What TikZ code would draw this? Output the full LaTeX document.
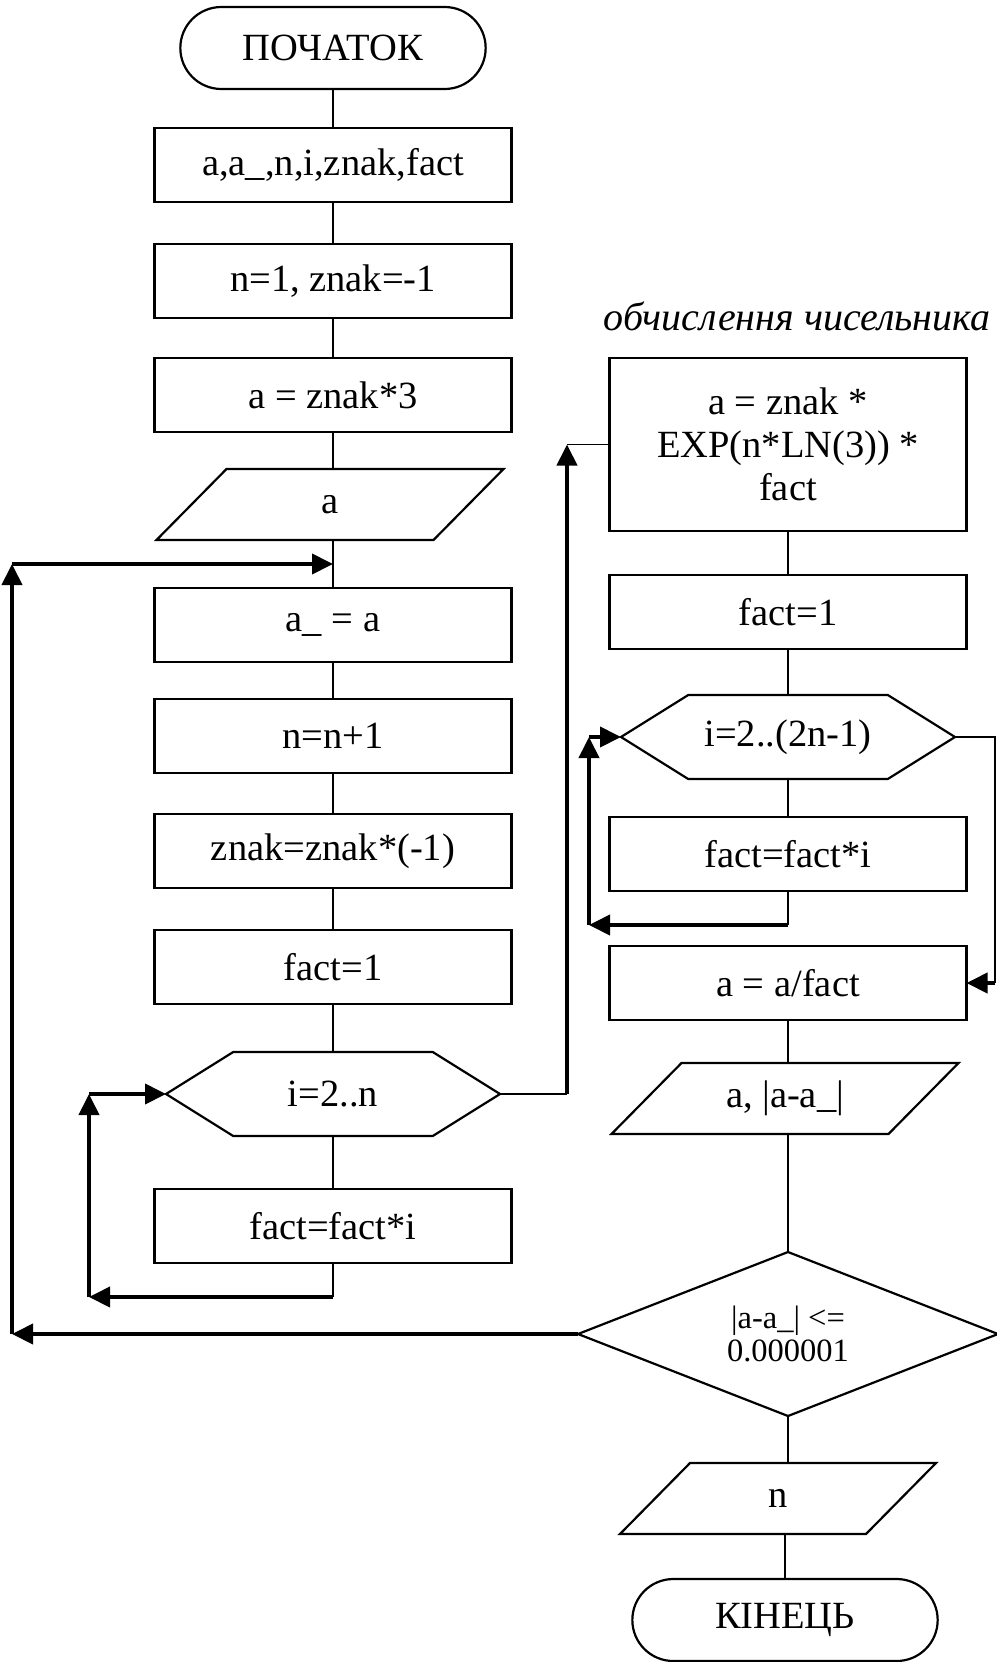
\documentclass[tikz,border=0pt]{standalone}
\usepackage{fontspec}
\setmainfont{Liberation Serif}
\usetikzlibrary{positioning,arrows.meta,shapes.geometric,shapes.misc,shapes.symbols}

\begin{document}
\begin{tikzpicture}[x=1pt, y=1pt,
  term/.style={draw, rounded rectangle, line width=2.2pt, outer sep=0pt,
               minimum width=312pt, minimum height=82pt,
               font=\fontsize{38.5}{43}\selectfont},
  proc/.style={draw, rectangle, line width=2.2pt, outer sep=0pt, minimum width=357pt,
               minimum height=74pt, align=center, font=\fontsize{38.5}{43}\selectfont},
  io/.style={rectangle, outer sep=0pt, minimum width=277pt, minimum height=71pt,
             font=\fontsize{38.5}{43}\selectfont,
             append after command={\pgfextra{\draw[line width=2.2pt, line join=miter]
               ([xshift=-35pt]\tikzlastnode.south west) -- ([xshift=-35pt]\tikzlastnode.south east)
               -- ([xshift=35pt]\tikzlastnode.north east) -- ([xshift=35pt]\tikzlastnode.north west)
               -- cycle;}}},
  hexa/.style={draw, signal, signal to=west and east, signal pointer angle=64,
               line width=2.2pt, outer sep=0pt, minimum width=334pt, minimum height=84pt,
               font=\fontsize{38.5}{43}\selectfont},
  decide/.style={draw, diamond, aspect=2.56, line width=2.2pt, outer sep=0pt,
                 minimum width=420pt, minimum height=164pt, inner sep=0pt, align=center,
                 font=\fontsize{32.5}{33}\selectfont},
  note/.style={font=\fontsize{40}{43}\selectfont\itshape},
  wire/.style={line width=1.8pt},
  back/.style={-{Triangle[length=21pt,width=20pt]}, line width=4pt}]
\useasboundingbox (0,0) rectangle (996,-1662);
% main column
\node[term] (start) at (333,-48) {ПОЧАТОК};
\node[proc, below=39pt of start] (decl) {a,a\_,n,i,znak,fact};
\node[proc, below=42pt of decl] (init) {n=1, znak=-1};
\node[proc, below=40pt of init] (first) {a = znak*3};
\node[io, below=37pt of first, xshift=-3pt] (show1) {a};
\node[proc, below=48pt of show1, xshift=3pt] (keep) {a\_ = a};
\node[proc, below=37pt of keep] (incn) {n=n+1};
\node[proc, below=41pt of incn] (sign) {znak=znak*(-1)};
\node[proc, below=42pt of sign] (one1) {fact=1};
\node[hexa, below=48pt of one1] (loop1) {i=2..n};
\node[proc, below=53pt of loop1] (mul1) {fact=fact*i};
% numerator column
\node[note] (cap) at (797,-316) {обчислення чисельника};
\node[proc, minimum height=173pt] (num) at (788,-444.5) {a = znak *\\EXP(n*LN(3)) *\\fact};
\node[proc, below=44pt of num] (one2) {fact=1};
\node[hexa, below=46pt of one2] (loop2) {i=2..(2n-1)};
\node[proc, below=38pt of loop2] (mul2) {fact=fact*i};
\node[proc, below=55pt of mul2] (div) {a = a/fact};
\node[io, below=43pt of div, xshift=-3pt] (show2) {a, |a-a\_|};
\node[decide, below=118pt of show2, xshift=3pt] (test) {|a-a\_| <=\\0.000001};
\node[io, below=47pt of test, minimum width=246pt, xshift=-10pt] (show3) {n};
\node[term, below=45pt of show3, xshift=7pt] (stop) {КІНЕЦЬ};
% plain links
\draw[wire] (start) -- (decl); \draw[wire] (decl) -- (init);
\draw[wire] (init) -- (first); \draw[wire] (first) -- (first |- show1.north);
\draw[wire] (keep |- show1.south) -- (keep); \draw[wire] (keep) -- (incn);
\draw[wire] (incn) -- (sign); \draw[wire] (sign) -- (one1);
\draw[wire] (one1) -- (loop1); \draw[wire] (loop1) -- (mul1);
\draw[wire] (num) -- (one2); \draw[wire] (one2) -- (loop2);
\draw[wire] (loop2) -- (mul2); \draw[wire] (div) -- (div |- show2.north);
\draw[wire] (test |- show2.south) -- (test); \draw[wire] (test) -- (test |- show3.north);
\draw[wire] (stop |- show3.south) -- (stop);
% turning points
\coordinate (xa) at (12,0); \coordinate (xb) at (89,0);
\coordinate (xc) at (567,0); \coordinate (xd) at (589,0);
\coordinate (xe) at (995,0);
\coordinate[below=24pt of show1] (join);
\coordinate[below=34pt of mul1] (b1);
\coordinate[below=34pt of mul2] (c1);
% inner loop, left
\draw[wire] (mul1) -- (b1);
\draw[back] (b1) -- (b1 -| xb);
\draw[back] (b1 -| xb) -- (loop1.west -| xb);
\draw[back] (loop1.west -| xb) -- (loop1.west);
% loop exit to numerator
\draw[wire] (loop1.east) -- (loop1.east -| xc);
\draw[back] (loop1.east -| xc) -- (num.west -| xc);
\draw[wire] (num.west -| xc) -- (num.west);
% inner loop, right
\draw[wire] (mul2) -- (c1);
\draw[back] (c1) -- (c1 -| xd);
\draw[back] (c1 -| xd) -- (loop2.west -| xd);
\draw[back] (loop2.west -| xd) -- (loop2.west);
% loop exit to division
\draw[line width=1.2pt] (loop2.east) -- (loop2.east -| xe) -- (div.east -| xe);
\draw[back] (div.east -| xe) -- (div.east);
% back to the top of the outer loop
\draw[back] (test.west) -- (test.west -| xa);
\draw[back] (test.west -| xa) -- (join -| xa);
\draw[back] (join -| xa) -- (keep |- join);
\end{tikzpicture}
\end{document}
